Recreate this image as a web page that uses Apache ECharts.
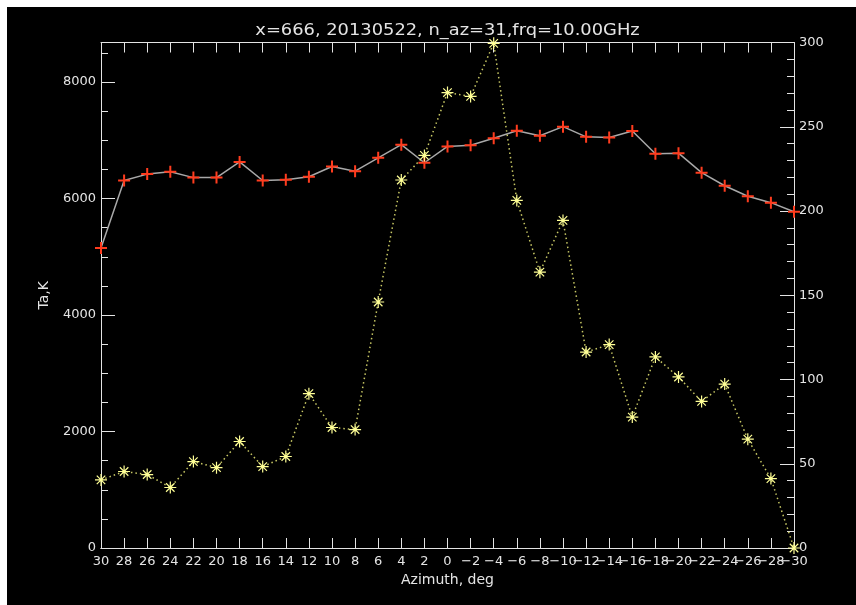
<!DOCTYPE html>
<html>
<head>
<meta charset="utf-8">
<script src="https://cdn.jsdelivr.net/npm/echarts@6/dist/echarts.min.js"></script>
<style>
  html, body { margin: 0; padding: 0; background: #ffffff; }
  #chart { position: absolute; left: 7px; top: 7px; width: 849px; height: 598px; background: #000000; }
</style>
</head>
<body>
<div id="chart"></div>
<script>
// Azimuth scan, degrees (plotted left to right from +30 to -30)
const azimuth = [30, 28, 26, 24, 22, 20, 18, 16, 14, 12, 10, 8, 6, 4, 2, 0,
  -2, -4, -6, -8, -10, -12, -14, -16, -18, -20, -22, -24, -26, -28, -30];

// Antenna temperature Ta, K (left axis)
const taK = [5150, 6310, 6420, 6460, 6360, 6360, 6630, 6310, 6325, 6375, 6550,
  6470, 6700, 6925, 6615, 6895, 6915, 7035, 7165, 7080, 7235, 7060, 7050, 7160,
  6770, 6780, 6445, 6220, 6040, 5930, 5775];

// Second trace (right axis)
const rightTrace = [40.4, 45.4, 43.6, 35.9, 51.3, 47.7, 63.2, 48.3, 54.3, 91.6,
  71.5, 70.3, 146, 218.4, 233, 270.3, 268, 299.5, 206.3, 163.7, 194.4, 116.3,
  120.7, 77.7, 113.4, 101.5, 87, 97.3, 64.6, 41.2, 0];

const leftRange = [0, 8680];
const rightRange = [0, 300];

const titleText = 'x=666, 20130522, n_az=31,frq=10.00GHz';

const fg = '#e4e4e4';
const font = 'DejaVu Sans';
const catLabels = azimuth.map(v => v < 0 ? '\u2212' + Math.abs(v) : String(v));

const plusPath = 'path://M5,0h2v5h5v2h-5v5h-2v-5h-5v-2h5z';
const starPath = 'path://M0,9H20V11H0Z M9,0H11V20H9Z ' +
  'M2.22,3.64L3.64,2.22L17.78,16.36L16.36,17.78Z ' +
  'M16.36,2.22L17.78,3.64L3.64,17.78L2.22,16.36Z';

// plot box inside the 849x598 canvas
const G = { left: 94, right: 62, top: 35.5, bottom: 57 };
const gridW = 849 - G.left - G.right;
const gridH = 598 - G.top - G.bottom;

const chart = echarts.init(document.getElementById('chart'), null, { renderer: 'canvas' });

const lineCol = { color: fg, width: 1 };
const tickStyle = (len) => ({ show: true, inside: false, length: len, interval: 0, lineStyle: { color: fg, width: 1 } });

// Tick-only axes sit on the opposite edge (via offset) so that their outward ticks point into the plot
const tickX = (pos) => ({
  type: 'category', data: catLabels, boundaryGap: false, position: pos, offset: -gridH,
  axisLine: { show: true, onZero: false, lineStyle: lineCol }, axisTick: tickStyle(10),
  axisLabel: { show: false }, splitLine: { show: false }
});
const tickY = (pos, range, step, len) => ({
  type: 'value', position: pos, offset: -gridW, min: range[0], max: range[1], interval: step,
  axisLine: { show: false }, axisTick: tickStyle(len),
  axisLabel: { show: false }, splitLine: { show: false }
});

chart.setOption({
  backgroundColor: '#000000',
  animation: false,
  graphic: [{
    type: 'text', x: 440.5, y: 24, scaleX: 1.19, silent: true,
    style: {
      text: titleText, fill: fg, font: '15px "DejaVu Sans"',
      align: 'center', verticalAlign: 'middle', textAlign: 'center', textVerticalAlign: 'middle'
    }
  }],
  grid: { left: G.left, right: G.right, top: G.top, bottom: G.bottom, containLabel: false },
  xAxis: [
    {
      type: 'category', data: catLabels, boundaryGap: false, position: 'bottom',
      axisLine: { show: true, onZero: false, lineStyle: lineCol },
      axisTick: { show: false },
      axisLabel: { interval: 0, color: fg, fontFamily: font, fontSize: 13, margin: 7 },
      splitLine: { show: false },
      name: 'Azimuth, deg', nameLocation: 'middle', nameGap: 24,
      nameTextStyle: { color: fg, fontFamily: font, fontSize: 14 }
    },
    tickX('bottom'),   // drawn on the top edge, ticks pointing down
    tickX('top')       // drawn on the bottom edge, ticks pointing up
  ],
  yAxis: [
    {
      type: 'value', position: 'left', min: leftRange[0], max: leftRange[1], interval: 2000,
      axisLine: { show: true, lineStyle: lineCol },
      axisTick: { show: false },
      axisLabel: { color: fg, fontFamily: font, fontSize: 13, margin: 5, showMaxLabel: false,
        formatter: v => String(v) },
      splitLine: { show: false },
      name: 'Ta,K', nameLocation: 'middle', nameGap: 50, nameRotate: 90,
      nameTextStyle: { color: fg, fontFamily: font, fontSize: 14 }
    },
    tickY('right', leftRange, 2000, 14),
    tickY('right', leftRange, 500, 7),
    {
      type: 'value', position: 'right', min: rightRange[0], max: rightRange[1], interval: 50,
      axisLine: { show: true, lineStyle: lineCol },
      axisTick: { show: false },
      axisLabel: { color: fg, fontFamily: font, fontSize: 13, margin: 5,
        formatter: v => String(v) },
      splitLine: { show: false }
    },
    tickY('left', rightRange, 50, 14),
    tickY('left', rightRange, 10, 7)
  ],
  series: [
    {
      name: 'Ta', type: 'line', xAxisIndex: 0, yAxisIndex: 0, data: taK,
      lineStyle: { color: '#a8a8a8', width: 1.5 },
      symbol: plusPath, symbolSize: 12, showAllSymbol: true,
      itemStyle: { color: '#ff3c1e' },
      z: 3
    },
    {
      name: 'right', type: 'line', xAxisIndex: 0, yAxisIndex: 3, data: rightTrace,
      lineStyle: { color: '#c8c864', width: 1.5, type: [1.5, 3] },
      symbol: starPath, symbolSize: 12, showAllSymbol: true,
      itemStyle: { color: '#ffff96' },
      z: 4
    }
  ]
});
</script>
</body>
</html>
